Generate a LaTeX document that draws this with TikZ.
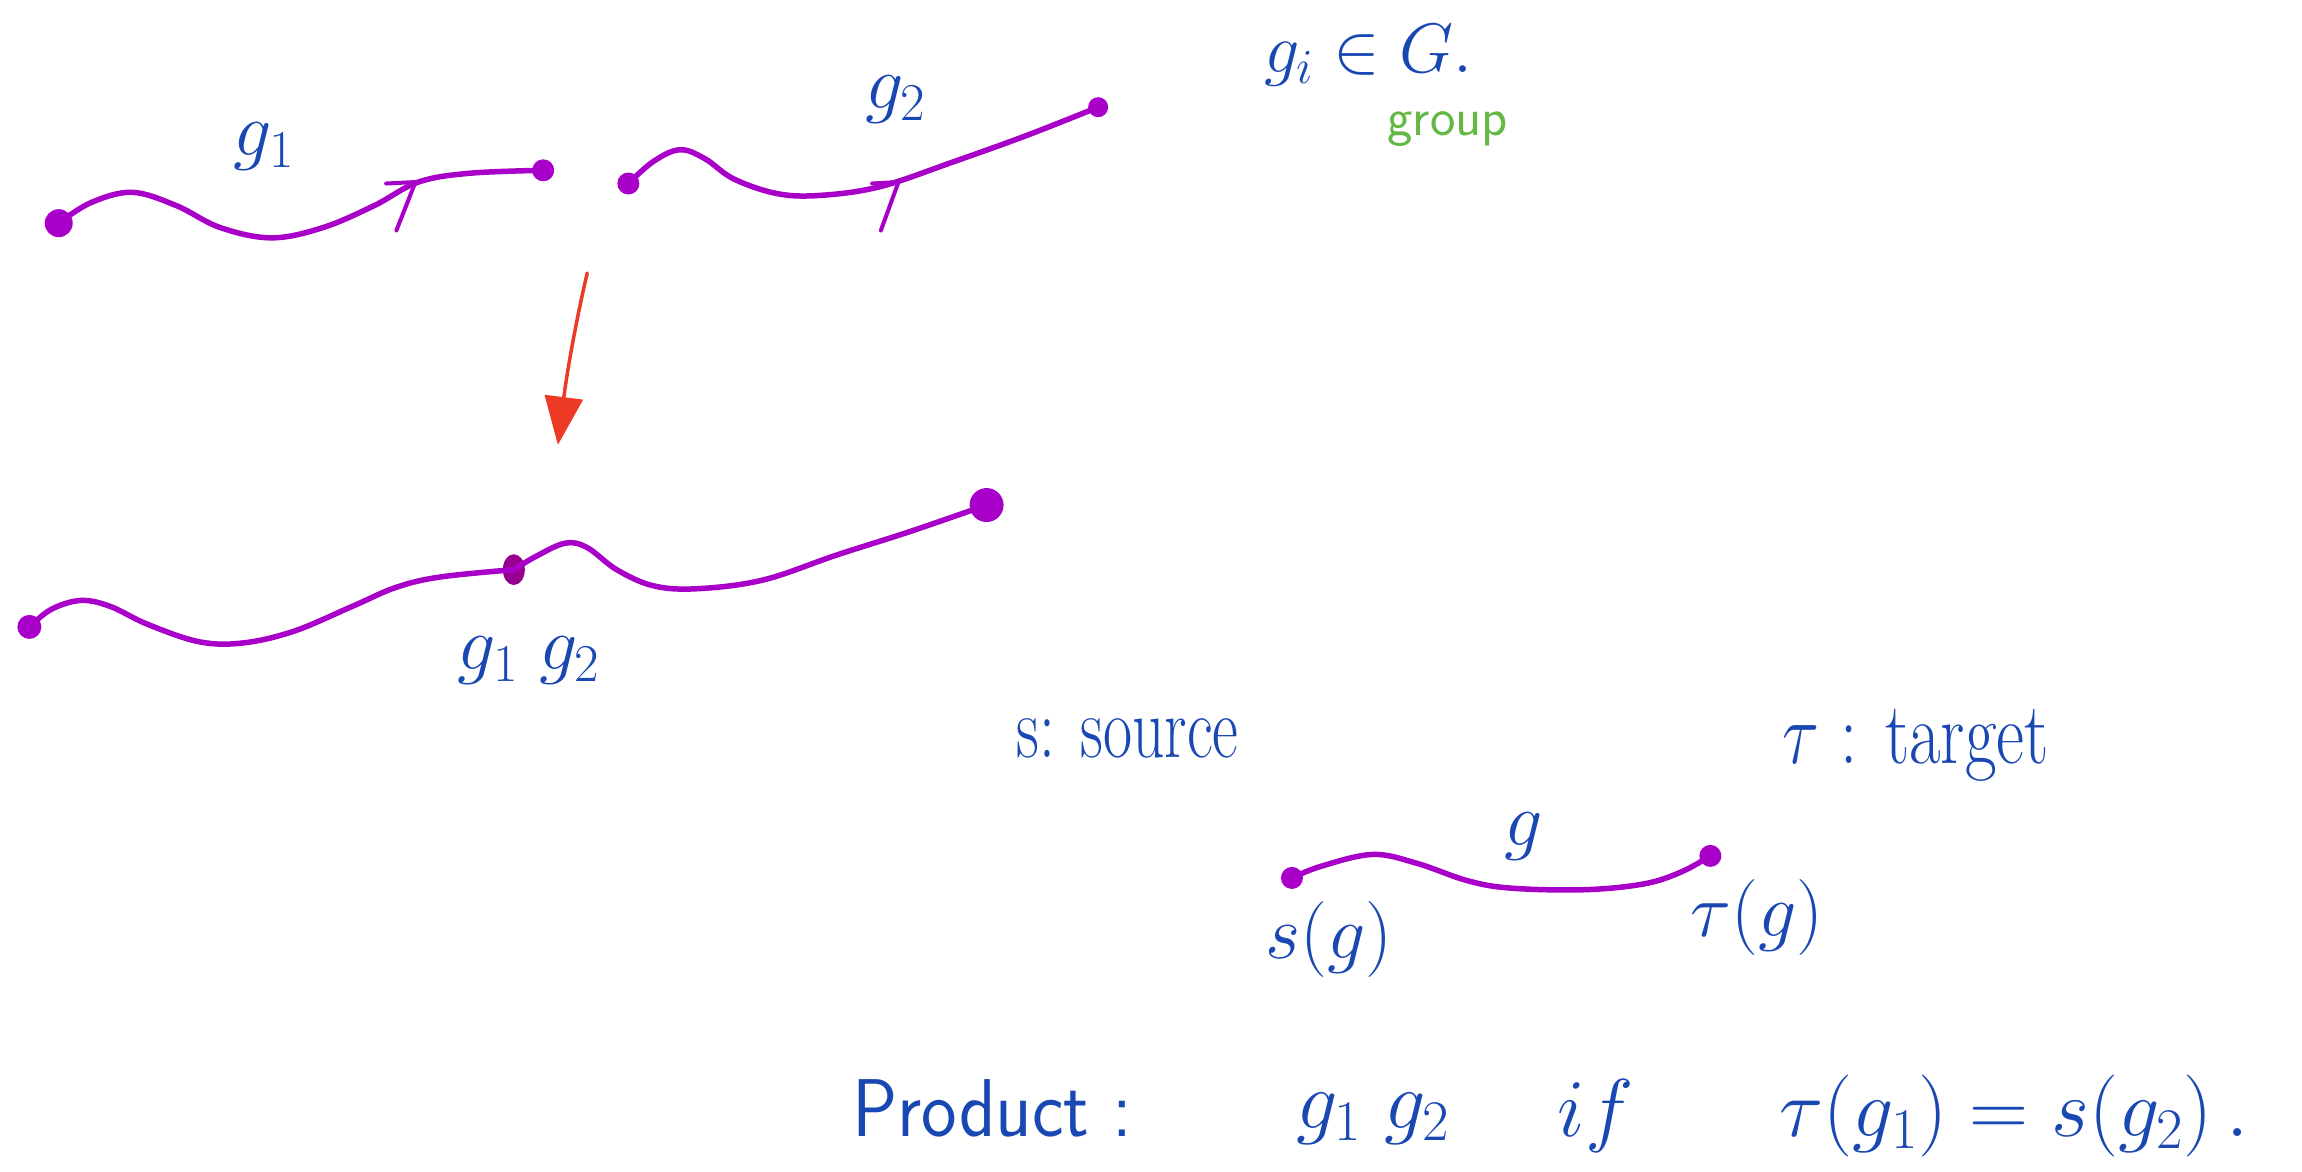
\documentclass[tikz,border=0pt]{standalone}
\usepackage{fix-cm}
\usepackage{fontspec}
\usetikzlibrary{arrows.meta}
\definecolor{pur}{RGB}{168,0,200}
\definecolor{purdark}{RGB}{150,0,140}
\definecolor{handblue}{RGB}{26,72,178}
\definecolor{handgreen}{RGB}{100,185,70}
\definecolor{redarrow}{RGB}{236,58,38}
\tikzset{
  path/.style={draw=pur,line width=5.5pt,line cap=round,line join=round},
  enddot/.style={circle,fill=pur,inner sep=0pt,minimum size=#1},
  hand/.style={text=handblue,font=\fontsize{76}{80}\selectfont,inner sep=0pt},
  prodtext/.style={text=handblue,font=\fontsize{82}{88}\selectfont,inner sep=0pt},
  print/.style={text=handblue,font=\fontsize{88}{92}\selectfont,inner sep=0pt},
  grp/.style={text=handgreen,font=\fontsize{54}{58}\selectfont\sffamily,inner sep=0pt},
}
\begin{document}
\begin{tikzpicture}[x=1.468pt,y=-1.468pt]
\useasboundingbox (0,0) rectangle (1568,798);
% top row
\node[enddot=28pt] (a1) at (40,152) {};
\node[enddot=22pt] (b1) at (370,116) {};
\node[enddot=22pt] (a2) at (428,125) {};
\node[enddot=20pt] (b2) at (748,73) {};
\draw[path] plot[smooth,tension=0.6] coordinates {(a1.center) (62,138) (90,131) (120,140) (150,155) (185,162) (220,155) (255,140) (285,124) (320,118) (b1.center)};
\draw[path] plot[smooth,tension=0.6] coordinates {(a2.center) (445,110) (463,102) (480,108) (500,122) (530,132) (560,133) (600,127) (650,110) (700,92) (b2.center)};
% hand arrowheads
\draw[path,line width=4pt] (263,125) -- (283,124) -- (270,157);
\draw[path,line width=4pt] (594,125) -- (612,124) -- (600,157);
\node[hand] (lg1) at (180,100) {$g_1$};
\node[hand] (lg2) at (610,68) {$g_2$};
% red arrow
\coordinate (rs) at (400,186);
\coordinate (re) at (380,303);
\draw[redarrow,line width=3.5pt,line cap=round,-{Triangle[length=48pt,width=38pt]}] (rs) .. controls (392,220) and (386,255) .. (re);
% bottom product curve
\node[enddot=24pt] (c1) at (20,427) {};
\node[circle,fill=purdark,inner sep=0pt,minimum size=22pt,yscale=1.4] (cm) at (350,388) {};
\node[enddot=34pt] (c2) at (672,344) {};
\draw[path] plot[smooth,tension=0.6] coordinates {(c1.center) (35,415) (55,409) (75,413) (100,425) (135,437) (165,438) (200,430) (240,413) (270,400) (300,393) (cm.center)};
\draw[path] plot[smooth,tension=0.6] coordinates {(cm.center) (365,379) (385,370) (400,373) (420,388) (445,399) (475,401) (520,395) (570,378) (620,362) (c2.center)};
\node[hand] (lg12) at (360,450) {$g_1\;g_2$};
% group
\node[hand,font=\fontsize{70}{74}\selectfont] (gi) at (932,38) {$g_i\in G.$};
\node[grp] (group) at (986,88) {group};
% source target
\node[print] (src) at (768,503) {\scalebox{0.72}[1]{s: source}};
\node[print] (tgt) at (1305,508) {\scalebox{0.78}[1]{$\tau$ : target}};
% single arrow g
\node[enddot=22pt] (sg) at (880,598) {};
\node[enddot=22pt] (tg) at (1165,583) {};
\draw[path] plot[smooth,tension=0.6] coordinates {(sg.center) (900,590) (935,582) (965,588) (1000,600) (1030,605) (1080,606) (1120,602) (1145,594) (tg.center)};
\node[hand] (lg) at (1038,570) {$g$};
\node[hand] (lsg) at (905,640) {$s(g)$};
\node[hand] (ltg) at (1197,625) {$\tau(g)$};
% product line
\node[prodtext] (prod) at (676,755) {\sffamily\scalebox{0.92}[1]{Product :}};
\node[prodtext] (p12) at (935,762) {$g_1\;g_2$};
\node[prodtext] (pif) at (1087,760) {$if$};
\node[prodtext] (peq) at (1372,760) {$\tau(g_1) = s(g_2)\,.$};
\end{tikzpicture}
\end{document}
